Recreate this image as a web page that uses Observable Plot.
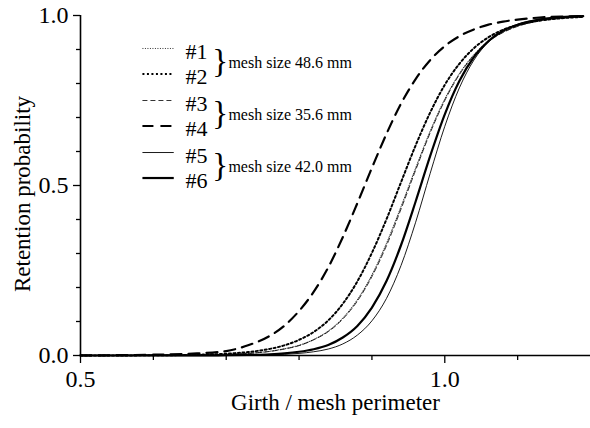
<!DOCTYPE html>
<html><head><meta charset="utf-8">
<script src="https://cdn.jsdelivr.net/npm/d3@7"></script>
<script src="https://cdn.jsdelivr.net/npm/@observablehq/plot@0.6"></script>
<style>body{margin:0;background:#fff} #chart{width:590px;height:428px}</style>
</head><body><div id="chart"></div>
<script>
// girth / mesh perimeter sample positions
const girth = [0.50, 0.60, 0.66, 0.70, 0.73, 0.76, 0.78, 0.80, 0.82, 0.84, 0.86, 0.88, 0.90, 0.92, 0.94, 0.96, 0.98, 1.00, 1.02, 1.04, 1.06, 1.08, 1.10, 1.13, 1.16, 1.19];
const seriesNames = ["#1", "#2", "#3", "#4", "#5", "#6"];
// retention probability
const r1 = [0, 0.0003, 0.0012, 0.0031, 0.0062, 0.0125, 0.020, 0.030, 0.047, 0.072, 0.110, 0.164, 0.237, 0.330, 0.438, 0.551, 0.660, 0.754, 0.829, 0.885, 0.925, 0.951, 0.969, 0.984, 0.992, 0.996];
const r2 = [0, 0.0006, 0.0022, 0.0053, 0.0102, 0.0195, 0.030, 0.046, 0.069, 0.103, 0.152, 0.218, 0.302, 0.401, 0.510, 0.618, 0.715, 0.796, 0.858, 0.904, 0.936, 0.958, 0.972, 0.985, 0.992, 0.996];
const r3 = [0, 0.0003, 0.0012, 0.003, 0.006, 0.012, 0.019, 0.029, 0.046, 0.070, 0.107, 0.160, 0.232, 0.323, 0.431, 0.545, 0.655, 0.750, 0.826, 0.883, 0.923, 0.950, 0.968, 0.984, 0.992, 0.996];
const r4 = [0.0003, 0.0023, 0.006, 0.013, 0.030, 0.058, 0.088, 0.131, 0.187, 0.259, 0.348, 0.448, 0.552, 0.652, 0.741, 0.813, 0.869, 0.910, 0.939, 0.959, 0.973, 0.982, 0.988, 0.994, 0.997, 0.998];
const r5 = [0, 0, 0.0001, 0.0003, 0.0008, 0.0019, 0.0035, 0.0062, 0.011, 0.019, 0.034, 0.060, 0.102, 0.168, 0.265, 0.392, 0.536, 0.674, 0.787, 0.869, 0.922, 0.955, 0.974, 0.989, 0.995, 0.998];
const r6 = [0, 0.0001, 0.0003, 0.0007, 0.0017, 0.0037, 0.0064, 0.011, 0.0185, 0.031, 0.053, 0.087, 0.141, 0.219, 0.325, 0.453, 0.587, 0.709, 0.807, 0.878, 0.925, 0.955, 0.973, 0.988, 0.995, 0.998];
const meshLabels = ["mesh size 48.6 mm", "mesh size 35.6 mm", "mesh size 42.0 mm"];
const xMajorTicks = [0.5, 1.0];
const xMinorTicks = [0.6, 0.7, 0.8, 0.9, 1.1];
const yMajorTicks = [0, 0.5, 1.0];
const yMinorTicks = [0.1, 0.2, 0.3, 0.4, 0.6, 0.7, 0.8, 0.9];
const xTitle = "Girth / mesh perimeter";
const yTitle = "Retention probability";

const retention = [r1, r2, r3, r4, r5, r6];
const rows = seriesNames.flatMap((s, i) => girth.map((x, k) => ({series: s, x, y: retention[i][k]})));

const styles = [
  {strokeWidth: 0.8, strokeDasharray: "1,1.5"},
  {strokeWidth: 2, strokeDasharray: "2,2.5"},
  {strokeWidth: 0.8, strokeDasharray: "5,3"},
  {strokeWidth: 2.2, strokeDasharray: "11,7"},
  {strokeWidth: 0.9},
  {strokeWidth: 2.2}
];

// legend layout (data units of the chart frame)
const legTop = 0.903, groupStep = 0.153, rowStep = 0.075;
const legendRows = seriesNames.map((s, i) => ({s, i, y: legTop - Math.floor(i / 2) * groupStep - (i % 2) * rowStep}));
const groupRows = meshLabels.map((m, g) => ({m, y: legTop - g * groupStep - rowStep / 2}));

const marks = [
  Plot.axisX(xMajorTicks, {tickSize: 8, tickPadding: 6, fontSize: 24, tickFormat: ".1f", label: null, strokeWidth: 1.3}),
  Plot.axisX(xMinorTicks, {tickSize: 5, tickFormat: () => "", label: null, strokeWidth: 1.3}),
  Plot.axisY(yMajorTicks, {tickSize: 7, tickPadding: 5, fontSize: 24, tickFormat: ".1f", label: null, strokeWidth: 1.3}),
  Plot.axisY(yMinorTicks, {tickSize: 4, tickFormat: () => "", label: null, strokeWidth: 1.3}),
  Plot.ruleY([0], {strokeWidth: 1.6}),
  Plot.ruleX([0.5], {strokeWidth: 1.6}),
  Plot.text([xTitle], {frameAnchor: "bottom", dy: 47, lineAnchor: "middle", textAnchor: "middle", fontSize: 23}),
  Plot.text([yTitle], {x: 0.5, y: 0.475, dx: -58, rotate: -90, lineAnchor: "middle", textAnchor: "middle", fontSize: 23})
];

seriesNames.forEach((s, i) => {
  marks.push(Plot.line(rows.filter(d => d.series === s), {x: "x", y: "y", curve: "monotone-x", stroke: "#000", ...styles[i]}));
  marks.push(Plot.link(legendRows.filter(d => d.i === i), {x1: 0.585, x2: 0.628, y1: "y", y2: "y", stroke: "#000", ...styles[i]}));
});
marks.push(Plot.text(legendRows, {x: 0.644, y: "y", dy: 3, text: "s", textAnchor: "start", fontSize: 22}));
marks.push(Plot.text(groupRows, {x: 0.681, y: "y", text: () => "}", textAnchor: "start", fontSize: 33}));
marks.push(Plot.text(groupRows, {x: 0.703, y: "y", dy: 2, text: "m", textAnchor: "start", fontSize: 16}));

const chart = Plot.plot({
  width: 590, height: 428,
  marginLeft: 80, marginRight: 0, marginTop: 15, marginBottom: 73,
  x: {domain: [0.5, 1.2]},
  y: {domain: [0, 1]},
  style: {fontFamily: "'Liberation Serif', 'Times New Roman', serif", background: "#fff", color: "#000", overflow: "visible"},
  marks
});
document.getElementById("chart").appendChild(chart);
</script>
</body></html>
